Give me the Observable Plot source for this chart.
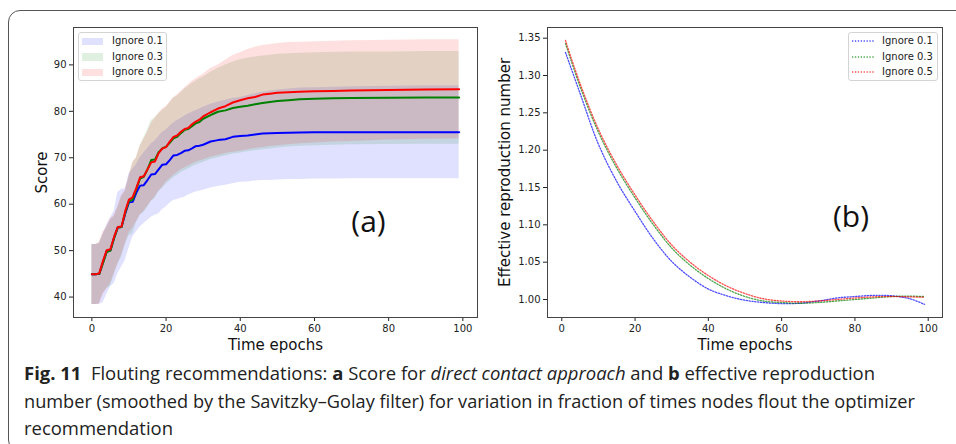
<!DOCTYPE html>
<html><head><meta charset="utf-8">
<script src="https://cdn.jsdelivr.net/npm/d3@7"></script>
<script src="https://cdn.jsdelivr.net/npm/@observablehq/plot@0.6"></script>
<style>
html,body{margin:0;padding:0;background:#fff;width:956px;height:444px;overflow:hidden;position:relative;}
#box{position:absolute;left:8px;top:10px;width:980px;height:440px;border:1.5px solid #555;border-radius:12px;}
#left{position:absolute;left:0;top:0;}
#right{position:absolute;left:480px;top:0;}
.legend{position:absolute;background:rgba(255,255,255,0.85);border:1px solid #d4d4d4;border-radius:3px;font-family:"DejaVu Sans",sans-serif;font-size:10px;color:#222;}
.legend .row{position:absolute;left:0;height:14px;white-space:nowrap;}
.legend .sw{position:absolute;}
.legend .sw svg{display:block;}
.legend .lab{position:absolute;top:0;line-height:14px;}
.cap{position:absolute;left:24px;font-family:"Open Sans",sans-serif;font-size:18px;color:#222;white-space:nowrap;transform-origin:0 50%;line-height:20px;}
</style></head><body>
<div id="box"></div>
<div id="left"></div>
<div id="right"></div>
<div id="cap1" class="cap" style="top:363px"></div>
<div id="cap2" class="cap" style="top:391px"></div>
<div id="cap3" class="cap" style="top:418px"></div>
<script>
// ---------- data: panel (a) ----------
const seriesNames = ["Ignore 0.1", "Ignore 0.3", "Ignore 0.5"];
const seriesColors = ["blue", "green", "red"];
const epochs = [0,1,2,3,4,5,6,7,8,9,10,11,12,13,14,15,16,17,18,19,20,21,22,23,24,25,26,27,28,29,30,32,34,36,38,40,42,44,46,48,50,53,56,60,65,70,80,90,99];
const mean01 = [44.9,44.9,45.0,47.5,49.9,50.1,52.8,55.0,55.1,58.0,60.4,60.5,62.5,64.0,64.1,65.2,66.4,66.5,67.5,68.5,68.6,69.5,70.5,70.6,71.0,71.5,71.6,72.0,72.5,72.6,72.8,73.5,73.8,74.0,74.5,74.7,74.8,75.0,75.2,75.3,75.35,75.4,75.45,75.5,75.5,75.5,75.5,75.5,75.5];
const lo01 = [38.4,38.4,38.4,38.8,40.5,42.2,42.9,45.0,46.5,47.9,50.5,52.9,54.0,55.1,55.8,56.5,57.2,57.6,57.9,58.8,59.4,60.2,60.8,61.0,61.3,61.5,62.0,62.3,62.6,62.8,63.0,63.5,63.8,64.1,64.4,64.7,64.8,65.0,65.1,65.1,65.2,65.3,65.3,65.4,65.4,65.5,65.5,65.5,65.5];
const hi01 = [51.3,51.3,51.5,53.5,55.5,57.0,58.5,62.5,63.2,63.3,66.5,67.5,68.5,70.0,71.0,72.0,73.0,73.6,74.6,75.5,76.0,76.8,77.5,78.0,78.5,79.0,79.4,79.8,80.2,80.5,80.9,81.5,82.0,82.4,82.8,83.0,83.4,83.8,84.1,84.4,84.6,84.8,85.0,85.1,85.2,85.3,85.4,85.5,85.5];
const mean03 = [44.9,44.9,45.0,47.3,49.7,50.0,52.7,55.0,55.1,58.2,60.6,61.0,63.3,65.5,65.9,67.5,69.5,69.6,71.2,72.0,72.4,73.2,74.2,74.5,75.3,76.0,76.2,76.8,77.4,77.7,78.4,79.2,79.9,80.2,80.7,81.0,81.2,81.5,81.8,82.0,82.2,82.4,82.6,82.7,82.8,82.85,82.9,82.95,83.0];
const lo03 = [38.4,38.4,38.6,40.8,41.8,42.3,44.8,47.0,48.6,51.2,53.2,53.6,56.0,57.6,58.2,59.3,60.6,61.2,62.6,63.4,64.3,65.0,65.7,66.2,66.8,67.2,67.6,68.0,68.4,68.7,69.0,69.6,70.0,70.4,70.8,71.0,71.3,71.5,71.7,71.9,72.1,72.3,72.5,72.6,72.7,72.8,72.85,72.9,72.9];
const hi03 = [51.3,51.3,51.7,53.5,55.0,56.5,57.3,59.3,61.5,62.8,65.8,68.8,70.0,72.6,74.3,76.0,78.0,78.6,79.4,80.2,80.8,81.8,82.8,83.3,84.0,84.8,85.4,86.0,86.5,87.0,87.4,88.4,89.3,90.0,90.6,91.1,91.5,91.7,91.9,92.1,92.3,92.4,92.5,92.6,92.7,92.75,92.8,92.9,92.9];
const mean05 = [44.9,44.9,45.1,47.8,50.1,50.3,53.0,55.1,55.2,58.5,61.0,61.5,63.5,65.8,66.0,67.5,69.0,69.2,71.0,72.0,72.3,73.5,74.5,74.8,75.6,76.2,76.4,77.2,77.8,78.2,78.9,79.8,80.6,81.1,81.9,82.4,82.8,83.1,83.6,83.8,84.0,84.1,84.2,84.3,84.4,84.5,84.6,84.7,84.75];
const lo05 = [38.4,38.4,38.4,40.5,41.8,42.9,45.0,47.2,49.0,51.5,53.8,54.8,56.2,57.6,58.4,59.5,60.7,61.5,62.8,63.6,64.8,65.5,66.2,66.8,67.4,67.8,68.2,68.6,69.0,69.3,69.5,70.1,70.5,70.9,71.2,71.4,71.7,72.0,72.2,72.4,72.6,72.8,73.0,73.2,73.4,73.5,73.8,74.0,74.1];
const hi05 = [51.3,51.3,51.7,54.0,55.1,56.9,57.5,59.5,61.9,63.0,66.0,69.0,70.0,72.5,74.0,75.5,77.4,78.5,79.6,80.5,81.0,82.0,83.0,83.5,84.3,85.0,85.7,86.5,87.0,87.5,88.0,89.2,90.0,91.0,92.0,92.6,93.3,93.8,94.2,94.4,94.6,94.8,94.9,95.0,95.1,95.2,95.3,95.4,95.4];
const xTicksA = [0,20,40,60,80,100];
const yTicksA = [40,50,60,70,80,90];

// ---------- data: panel (b) ----------
const epochsB = [1,5,10,15,20,25,30,35,40,45,50,55,60,65,70,75,80,85,90,95,99];
const reff01 = [1.331,1.276,1.208,1.158,1.118,1.081,1.051,1.030,1.014,1.005,0.999,0.996,0.9945,0.995,0.998,1.002,1.004,1.0055,1.005,1.001,0.9935];
const reff03 = [1.343,1.285,1.224,1.176,1.136,1.100,1.069,1.046,1.028,1.014,1.004,0.998,0.996,0.995,0.996,0.998,1.000,1.002,1.004,1.0045,1.004];
const reff05 = [1.347,1.289,1.228,1.180,1.140,1.104,1.073,1.050,1.032,1.018,1.008,1.001,0.998,0.997,0.998,1.000,1.002,1.0035,1.004,1.0035,1.003];
const xTicksB = [0,20,40,60,80,100];
const yTicksB = [1.00,1.05,1.10,1.15,1.20,1.25,1.30,1.35];

// ---------- tables ----------
const rowsA = [];
[[mean01,lo01,hi01],[mean03,lo03,hi03],[mean05,lo05,hi05]].forEach(([m,l,h],k)=>{
  epochs.forEach((e,i)=>rowsA.push({epoch:e, mean:m[i], lo:l[i], hi:h[i], series:seriesNames[k]}));
});
const rowsB = [];
[reff01,reff03,reff05].forEach((arr,k)=>{
  epochsB.forEach((e,i)=>rowsB.push({epoch:e, r:arr[i], series:seriesNames[k]}));
});

const baseStyle = {fontFamily:"DejaVu Sans, sans-serif", fontSize:"10px", color:"#222", background:"transparent", overflow:"visible"};
const color = {domain:seriesNames, range:seriesColors};

const plotA = Plot.plot({
  width:480, height:360, marginLeft:73, marginRight:3, marginTop:27, marginBottom:43,
  style:baseStyle,
  x:{domain:[-4.95,103.95]},
  y:{domain:[35.6,98.05]},
  color,
  marks:[
    Plot.areaY(rowsA,{x:"epoch", y1:"lo", y2:"hi", z:"series", fill:"series", fillOpacity:0.12}),
    Plot.lineY(rowsA,{x:"epoch", y:"mean", z:"series", stroke:"series", strokeWidth:2}),
    Plot.axisX({ticks:xTicksA, tickSize:4, tickPadding:3, label:null}),
    Plot.axisY({ticks:yTicksA, tickSize:4, tickPadding:3, label:null}),
    Plot.frame({stroke:"#444"}),
    Plot.text(["Time epochs"],{frameAnchor:"bottom", dy:28, fontSize:15, lineAnchor:"middle", textAnchor:"middle", fill:"#111"}),
    Plot.text(["Score"],{frameAnchor:"left", dx:-31, rotate:-90, fontSize:15, lineAnchor:"middle", textAnchor:"middle", fill:"#111"}),
    Plot.text(["(a)"],{frameAnchor:"middle", dx:93, dy:50, fontSize:30, fontFamily:"Open Sans, sans-serif", lineAnchor:"middle", textAnchor:"middle", fill:"#111"})
  ]
});
document.getElementById("left").appendChild(plotA);

const plotB = Plot.plot({
  width:476, height:360, marginLeft:67, marginRight:14, marginTop:27, marginBottom:43,
  style:baseStyle,
  x:{domain:[-3.9,103.9]},
  y:{domain:[0.9759,1.3643]},
  color,
  marks:[
    Plot.lineY(rowsB,{x:"epoch", y:"r", z:"series", stroke:"series", strokeWidth:1.3, strokeOpacity:0.7, strokeDasharray:"1.3,1.6", curve:"catmull-rom"}),
    Plot.axisX({ticks:xTicksB, tickSize:4, tickPadding:3, label:null}),
    Plot.axisY({ticks:yTicksB, tickSize:4, tickPadding:3, tickFormat:".2f", label:null}),
    Plot.frame({stroke:"#444"}),
    Plot.text(["Time epochs"],{frameAnchor:"bottom", dy:28, fontSize:15, lineAnchor:"middle", textAnchor:"middle", fill:"#111"}),
    Plot.text(["Effective reproduction number"],{frameAnchor:"left", dx:-42, rotate:-90, fontSize:15, lineAnchor:"middle", textAnchor:"middle", fill:"#111"}),
    Plot.text(["(b)"],{frameAnchor:"middle", dx:106, dy:45, fontSize:30, fontFamily:"Open Sans, sans-serif", lineAnchor:"middle", textAnchor:"middle", fill:"#111"})
  ]
});
document.getElementById("right").appendChild(plotB);

// ---------- legends ----------
function legend(left, kind){
  const box = document.createElement("div");
  box.className = "legend";
  box.style.left = left + "px"; box.style.top = "32px";
  box.style.width = (kind==="fill" ? 87 : 88) + "px"; box.style.height = "47px";
  seriesNames.forEach((name,k)=>{
    const row = document.createElement("div");
    row.className = "row"; row.style.top = (1 + k*15.5) + "px";
    const sw = document.createElement("div"); sw.className = "sw";
    if (kind==="fill"){
      sw.style.cssText = `left:3px;top:3.5px;width:21px;height:7.5px;background:${seriesColors[k]};opacity:0.12;`;
    } else {
      sw.style.cssText = `left:3px;top:5px;width:22px;height:4px;`;
      sw.innerHTML = `<svg width="22" height="4"><line x1="0" y1="2" x2="22" y2="2" stroke="${seriesColors[k]}" stroke-width="1.3" stroke-opacity="0.7" stroke-dasharray="1.3,1.6"/></svg>`;
    }
    const lab = document.createElement("div"); lab.className = "lab";
    lab.style.left = "33px";
    lab.textContent = name;
    row.appendChild(sw); row.appendChild(lab); box.appendChild(row);
  });
  document.body.appendChild(box);
}
legend(78, "fill");
legend(848, "line");

// ---------- caption ----------
document.getElementById("cap1").innerHTML = '<b>Fig. 11</b>&nbsp; Flouting recommendations: <b>a</b> Score for <i>direct contact approach</i> and <b>b</b> effective reproduction';
document.getElementById("cap2").textContent = 'number (smoothed by the Savitzky–Golay filter) for variation in fraction of times nodes flout the optimizer';
document.getElementById("cap3").textContent = 'recommendation';
const targets = {cap1:851, cap2:891, cap3:149};
for (const id in targets){
  const el = document.getElementById(id);
  const w = el.getBoundingClientRect().width;
  el.style.transform = `scaleX(${targets[id]/w})`;
}
</script>
</body></html>
